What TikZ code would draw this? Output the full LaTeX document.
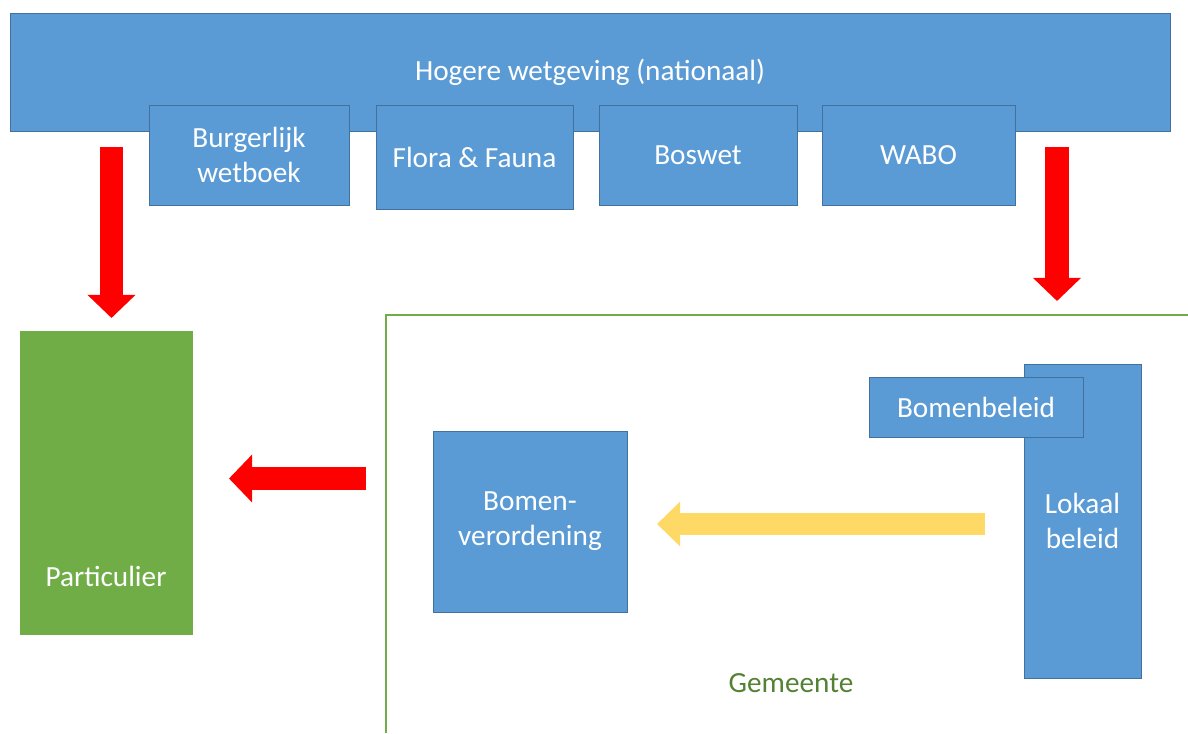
\documentclass[tikz,border=0pt]{standalone}
\usepackage{fontspec}
\setmainfont{Carlito}
\usetikzlibrary{arrows.meta}

\definecolor{blauw}{HTML}{5B9BD5}
\definecolor{blauwrand}{HTML}{41719C}
\definecolor{groen}{HTML}{70AD47}
\definecolor{donkergroen}{HTML}{548235}
\definecolor{geel}{HTML}{FFD966}
\definecolor{rood}{HTML}{FF0000}

\tikzset{
	maat/.style 2 args={minimum width=#1*0.025cm, minimum height=#2*0.025cm},
	blok/.style={draw=blauwrand, line width=0.7pt, fill=blauw, text=white, align=center, inner sep=0pt, font=\fontsize{20.8}{24.9}\selectfont},
	roodpijl/.style={rood, line width=0.58cm, -{Triangle[width=1.17cm, length=0.58cm]}},
	geelpijl/.style={geel, line width=0.55cm, -{Triangle[width=1.08cm, length=0.575cm]}}
}

\begin{document}
\begin{tikzpicture}[x=0.025cm, y=-0.025cm]
			\useasboundingbox (0,0) rectangle (1188,733);
			\node[blok, maat={1160}{118}] (hogere) at (590,72) {Hogere wetgeving (nationaal)};
			\node[blok, maat={200}{100}] (bw) at (249,155) {Burgerlijk\\wetboek};
			\node[blok, maat={197}{104}] (flora) at (474.5,157) {Flora \& Fauna};
			\node[blok, maat={198}{100}] (boswet) at (698,155) {Boswet};
			\node[blok, maat={193}{100}] (wabo) at (918.5,155) {WABO};

			\node[fill=groen, maat={173}{304}, inner sep=0pt] (particulier) at (106.5,483) {};
			\node[text=white, font=\fontsize{20.8}{24.9}\selectfont] (parttekst) at (106,576) {Particulier};

			\draw[groen, line width=1.4pt] (386,733) |- (1188,315);
			\node[text=donkergroen, font=\fontsize{20.8}{24.9}\selectfont] (gemeente) at (791,683) {Gemeente};

			\node[blok, maat={194}{181}] (verordening) at (530,521.5) {Bomen-\\verordening};
			\node[blok, maat={117}{314}] (lokaal) at (1082.5,521) {Lokaal\\beleid};
			\node[blok, maat={214}{60}] (bomenbeleid) at (976,407) {Bomenbeleid};

			\coordinate (rood1a) at (111.5,147);
			\coordinate (rood1b) at (111.5,318);
			\coordinate (rood2a) at (1057,147);
			\coordinate (rood2b) at (1057,301);
			\coordinate (rood3a) at (366,478.5);
			\coordinate (rood3b) at (229,478.5);
			\coordinate (geela) at (985,524);
			\coordinate (geelb) at (657,524);
			\draw[roodpijl] (rood1a) -- (rood1b);
			\draw[roodpijl] (rood2a) -- (rood2b);
			\draw[roodpijl] (rood3a) -- (rood3b);
			\draw[geelpijl] (geela) -- (geelb);
\end{tikzpicture}
\end{document}
